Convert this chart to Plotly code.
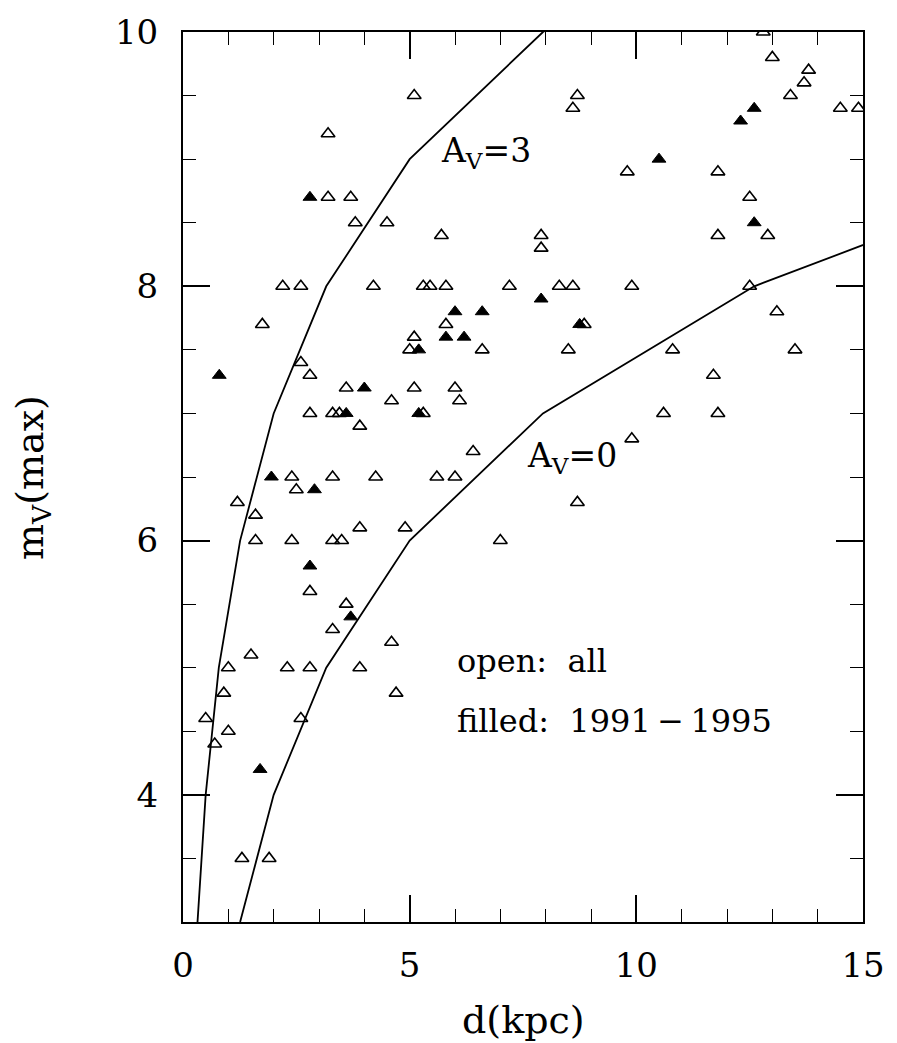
import plotly.graph_objects as go

# ---- data ----
open_d = [5.1, 3.2, 3.2, 3.7, 3.8, 4.5, 5.7,
          2.2, 2.6, 4.2, 5.3, 5.45, 5.8, 7.2,
          12.8, 13.0, 13.8, 13.7, 13.4, 14.5, 14.9,
          8.7, 8.6, 9.8, 11.8, 12.5, 11.8, 12.9,
          7.9, 7.9, 8.3, 8.6, 9.9, 12.5, 13.1,
          5.8, 5.1, 5.0, 6.6, 1.75, 2.6, 2.8,
          3.6, 5.1, 6.0, 4.6, 6.1, 2.8, 3.3, 3.45, 5.3,
          3.9, 6.4, 2.4, 3.3, 4.25, 5.6, 6.0, 2.5,
          1.2, 1.6, 1.6, 2.4, 3.3, 3.5, 7.0, 3.9, 4.9,
          2.8, 3.6, 3.3, 4.6, 1.5, 1.0, 2.3, 2.8, 3.9,
          0.9, 4.7, 0.5, 2.6, 1.0, 0.7, 1.3, 1.9,
          8.85, 8.5, 10.8, 13.5, 11.7, 10.6, 11.8, 9.9, 8.7]
open_m = [9.5, 9.2, 8.7, 8.7, 8.5, 8.5, 8.4,
          8.0, 8.0, 8.0, 8.0, 8.0, 8.0, 8.0,
          10.0, 9.8, 9.7, 9.6, 9.5, 9.4, 9.4,
          9.5, 9.4, 8.9, 8.9, 8.7, 8.4, 8.4,
          8.4, 8.3, 8.0, 8.0, 8.0, 8.0, 7.8,
          7.7, 7.6, 7.5, 7.5, 7.7, 7.4, 7.3,
          7.2, 7.2, 7.2, 7.1, 7.1, 7.0, 7.0, 7.0, 7.0,
          6.9, 6.7, 6.5, 6.5, 6.5, 6.5, 6.5, 6.4,
          6.3, 6.2, 6.0, 6.0, 6.0, 6.0, 6.0, 6.1, 6.1,
          5.6, 5.5, 5.3, 5.2, 5.1, 5.0, 5.0, 5.0, 5.0,
          4.8, 4.8, 4.6, 4.6, 4.5, 4.4, 3.5, 3.5,
          7.7, 7.5, 7.5, 7.5, 7.3, 7.0, 7.0, 6.8, 6.3]

filled_d = [2.8, 6.0, 6.6, 5.8, 6.2, 5.2, 0.8, 4.0, 3.6, 5.2, 1.95, 2.9, 2.8, 3.7, 1.7,
            12.6, 12.3, 10.5, 12.6, 7.9, 8.75]
filled_m = [8.7, 7.8, 7.8, 7.6, 7.6, 7.5, 7.3, 7.2, 7.0, 7.0, 6.5, 6.4, 5.8, 5.4, 4.2,
            9.4, 9.3, 9.0, 8.5, 7.9, 7.7]

av0_d = [1.26, 2.0, 3.16, 5.0, 7.94, 12.6, 20.0]
av0_m = [3, 4, 5, 6, 7, 8, 9]
av3_d = [0.32, 0.5, 0.79, 1.26, 2.0, 3.16, 5.0, 7.94, 12.6]
av3_m = [3, 4, 5, 6, 7, 8, 9, 10, 11]

x_ticks = [0, 5, 10, 15]
y_ticks = [4, 6, 8, 10]

FONT = "DejaVu Serif"

fig = go.Figure()
fig.add_trace(go.Scatter(x=av3_d, y=av3_m, mode="lines",
                         line=dict(color="black", width=1.8), hoverinfo="skip"))
fig.add_trace(go.Scatter(x=av0_d, y=av0_m, mode="lines",
                         line=dict(color="black", width=1.8), hoverinfo="skip"))
fig.add_trace(go.Scatter(x=open_d, y=open_m, mode="markers",
                         marker=dict(symbol="triangle-up-open", size=12, color="black",
                                     line=dict(width=1.6, color="black"))))
fig.add_trace(go.Scatter(x=filled_d, y=filled_m, mode="markers",
                         marker=dict(symbol="triangle-up", size=12, color="black",
                                     line=dict(width=1, color="black"))))

ax_common = dict(showgrid=False, zeroline=False, showline=True, linecolor="black",
                 linewidth=2, mirror="ticks", ticks="inside", tickcolor="black",
                 tickwidth=1.6, ticklen=27,
                 tickfont=dict(family=FONT, size=34, color="black"))

fig.update_xaxes(range=[0, 15], tickvals=x_ticks, ticktext=[str(v) for v in x_ticks],
                 minor=dict(dtick=1, ticks="inside", ticklen=13, tickcolor="black",
                            tickwidth=1.4, showgrid=False),
                 ticklabelstandoff=12, **ax_common)
fig.update_yaxes(range=[3, 10], tickvals=y_ticks, ticktext=[str(v) for v in y_ticks],
                 minor=dict(dtick=0.5, ticks="inside", ticklen=13, tickcolor="black",
                            tickwidth=1.4, showgrid=False),
                 ticklabelstandoff=16, **ax_common)

ann_font = dict(family=FONT, size=33, color="black")
fig.add_annotation(x=5.65, y=9.05, xref="x", yref="y", text="A<sub>V</sub>=3",
                   showarrow=False, xanchor="left", yanchor="middle", font=ann_font)
fig.add_annotation(x=7.55, y=6.65, xref="x", yref="y", text="A<sub>V</sub>=0",
                   showarrow=False, xanchor="left", yanchor="middle", font=ann_font)
fig.add_annotation(x=6.0, y=5.05, xref="x", yref="y", text="open:  all",
                   showarrow=False, xanchor="left", yanchor="middle",
                   font=dict(family=FONT, size=32, color="black"))
fig.add_annotation(x=6.0, y=4.58, xref="x", yref="y", text="filled:  1991\u2009\u2212\u20091995",
                   showarrow=False, xanchor="left", yanchor="middle",
                   font=dict(family=FONT, size=32, color="black"))

fig.update_layout(
    width=897, height=1043,
    margin=dict(l=183, r=29, t=28, b=121),
    paper_bgcolor="white", plot_bgcolor="white",
    showlegend=False,
)
# axis titles positioned in paper coordinates
fig.add_annotation(x=0.5, y=-(1020 - 922) / (922 - 28),
                   xref="paper", yref="paper", text="d(kpc)",
                   showarrow=False, xanchor="center", yanchor="middle",
                   font=dict(family=FONT, size=38, color="black"))
fig.add_annotation(x=-(183 - 32) / (868 - 183), y=(922 - 476) / (922 - 28),
                   xref="paper", yref="paper", text="m<sub>V</sub>(max)", textangle=-90,
                   showarrow=False, xanchor="center", yanchor="middle",
                   font=dict(family=FONT, size=38, color="black"))

fig.write_html("out.html")
